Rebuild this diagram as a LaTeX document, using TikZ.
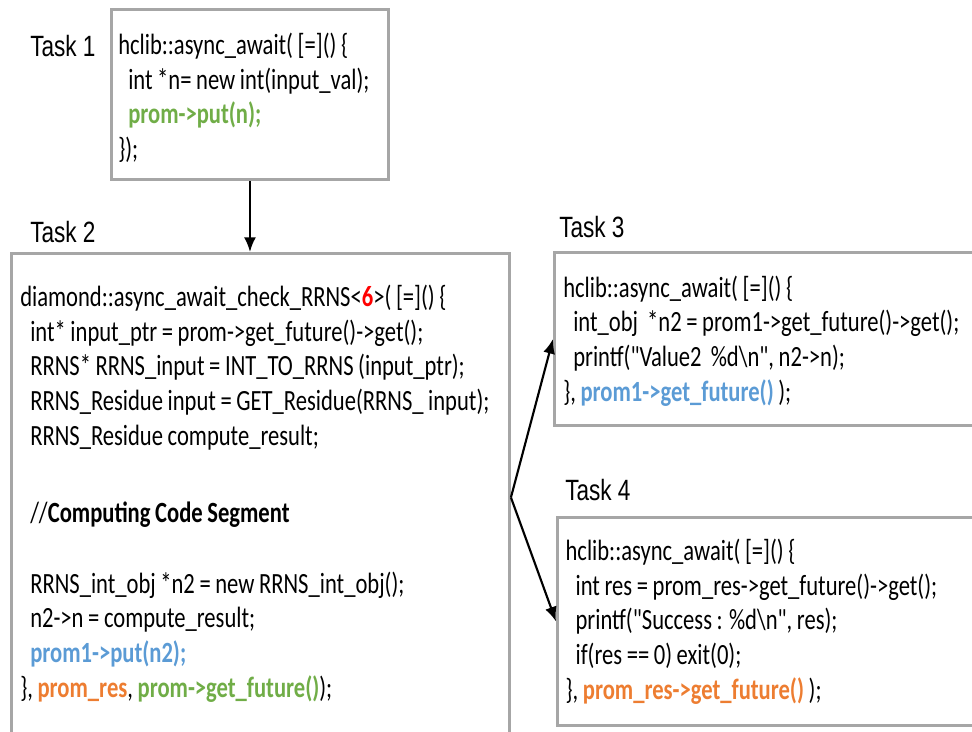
\documentclass[tikz,border=0pt]{standalone}
\usepackage{fontspec}
\usetikzlibrary{arrows.meta}
\newfontfamily\codefont{Carlito}[FakeStretch=0.77,WordSpace=0.9]
\newfontfamily\taskfont{Liberation Sans}[FakeStretch=0.77]
\definecolor{promgreen}{HTML}{70AD47}
\definecolor{promblue}{HTML}{5B9BD5}
\definecolor{promorange}{HTML}{ED7D31}
\definecolor{boxgray}{HTML}{A6A6A6}
\newcommand{\ind}{\hspace*{7.5pt}}
\newcommand{\hl}[2]{\textcolor{#1}{\textbf{#2}}}

\begin{document}
\begin{tikzpicture}[x=0.75pt,y=-0.75pt,
  taskbox/.style={draw=boxgray,line width=2.2pt,anchor=north west,inner sep=0pt},
  code/.style={align=left,anchor=west,inner sep=0pt,font=\codefont\fontsize{22}{26}\selectfont},
  tasklabel/.style={font=\taskfont\fontsize{22}{26}\selectfont,anchor=base west,inner sep=0pt},
  flow/.style={-{Latex[length=11pt,width=9pt]},line width=1.6pt}]
  \useasboundingbox (0,0) rectangle (972,732);
  \node[tasklabel] (l1) at (30,56) {Task 1};
  \node[tasklabel] (l2) at (30,242) {Task 2};
  \node[tasklabel] (l3) at (559,237) {Task 3};
  \node[tasklabel] (l4) at (565,500) {Task 4};
  \node[taskbox,minimum width=207.75pt,minimum height=127.5pt] (t1) at (110,8) {};
  \node[taskbox,minimum width=373.5pt,minimum height=366pt] (t2) at (10,252) {};
  \node[taskbox,minimum width=324pt,minimum height=129.75pt] (t3) at (553,251) {};
  \node[taskbox,minimum width=321.75pt,minimum height=156pt] (t4) at (556,516) {};
  \node[code] (c1) at ([xshift=6pt,yshift=-2.5pt]t1.west)
    {hclib::async\_await( [=]() \{\\
     \ind int *n= new int(input\_val);\\
     \ind\hl{promgreen}{prom->put(n);}\\
     \});};
  \node[code] (c2) at ([xshift=7.5pt,yshift=3pt]t2.west)
    {diamond::async\_await\_check\_RRNS<\textcolor{red}{\textbf{6}}>( [=]() \{\\
     \ind int* input\_ptr = prom->get\_future()->get();\\
     \ind RRNS* RRNS\_input = INT\_TO\_RRNS (input\_ptr);\\
     \ind RRNS\_Residue input = GET\_Residue(RRNS\_ input);\\
     \ind RRNS\_Residue compute\_result;\\[32pt]
     \ind//\textbf{Computing Code Segment}\\[27pt]
     \ind RRNS\_int\_obj *n2 = new RRNS\_int\_obj();\\
     \ind n2->n = compute\_result;\\
     \ind\hl{promblue}{prom1->put(n2);}\\
     \}, \hl{promorange}{prom\_res}, \hl{promgreen}{prom->get\_future()});};
  \node[code] (c3) at ([xshift=7.5pt,yshift=-1.5pt]t3.west)
    {hclib::async\_await( [=]() \{\\
     \ind int\_obj \ *n2 = prom1->get\_future()->get();\\
     \ind printf("Value2\ \ \%d\textbackslash n", n2->n);\\
     \}, \hl{promblue}{prom1->get\_future()} );};
  \node[code] (c4) at ([xshift=7pt]t4.west)
    {hclib::async\_await( [=]() \{\\
     \ind int res = prom\_res->get\_future()->get();\\
     \ind printf("Success : \%d\textbackslash n", res);\\
     \ind if(res == 0) exit(0);\\
     \}, \hl{promorange}{prom\_res->get\_future()} );};
  \draw[flow] (t1.south) -- (t1.south |- t2.north);
  \draw[flow] (t2.east) -- (t3.west);
  \draw[flow] (t2.east) -- (t4.west);
\end{tikzpicture}
\end{document}
